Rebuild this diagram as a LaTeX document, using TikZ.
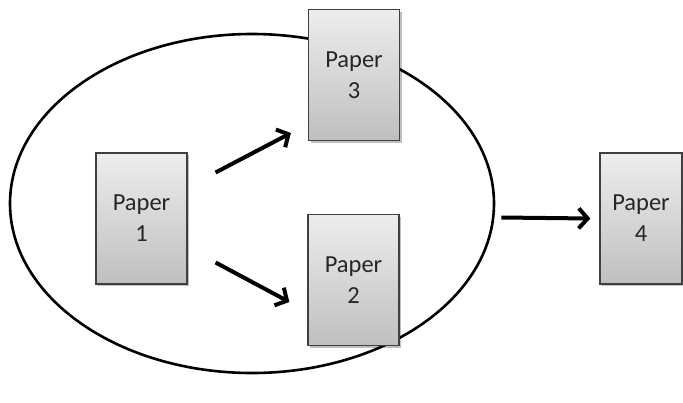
\documentclass[tikz,border=0pt]{standalone}
\usepackage{fontspec}
\setmainfont{Carlito}
\usetikzlibrary{arrows.meta,calc,shadows,shapes.geometric}
\tikzset{>={Straight Barb[length=9,width=20]}}
\colorlet{boxedge}{black!75}

\begin{document}
\begin{tikzpicture}[x=1pt,y=-1pt,
    arrow/.style={->,line width=4pt,black},
    paper/.style={draw=boxedge,line width=1.2pt,top color=black!7,bottom color=black!25,
      minimum width=91,minimum height=131,align=center,text=black!85,
      font=\fontsize{24.5}{31}\selectfont,
      drop shadow={shadow xshift=2pt,shadow yshift=-2pt,fill=black,opacity=.25}}]
    \useasboundingbox (0,0) rectangle (683,402);

    \node[draw,line width=2.6pt,ellipse,minimum width=484,minimum height=339] (E) at (252,203.5) {};

    \node[paper] (P1) at (141.5,218.5) {Paper\\1};
    \node[paper] (P3) at (354,75) {Paper\\3};
    \node[paper] (P2) at (353.5,280) {Paper\\2};
    \node[paper,minimum width=82] (P4) at (641,218.5) {Paper\\4};

    \draw[arrow] ($(P1.east)+(28,-46)$) -- ($(P3.west)+(-17,58)$);
    \draw[arrow] ($(P1.east)+(28,44)$) -- ($(P2.west)+(-18,22)$);
    \draw[arrow] ($(E.east)+(6,14)$) -- ($(P4.west)+(-9,0)$);

\end{tikzpicture}
\end{document}
